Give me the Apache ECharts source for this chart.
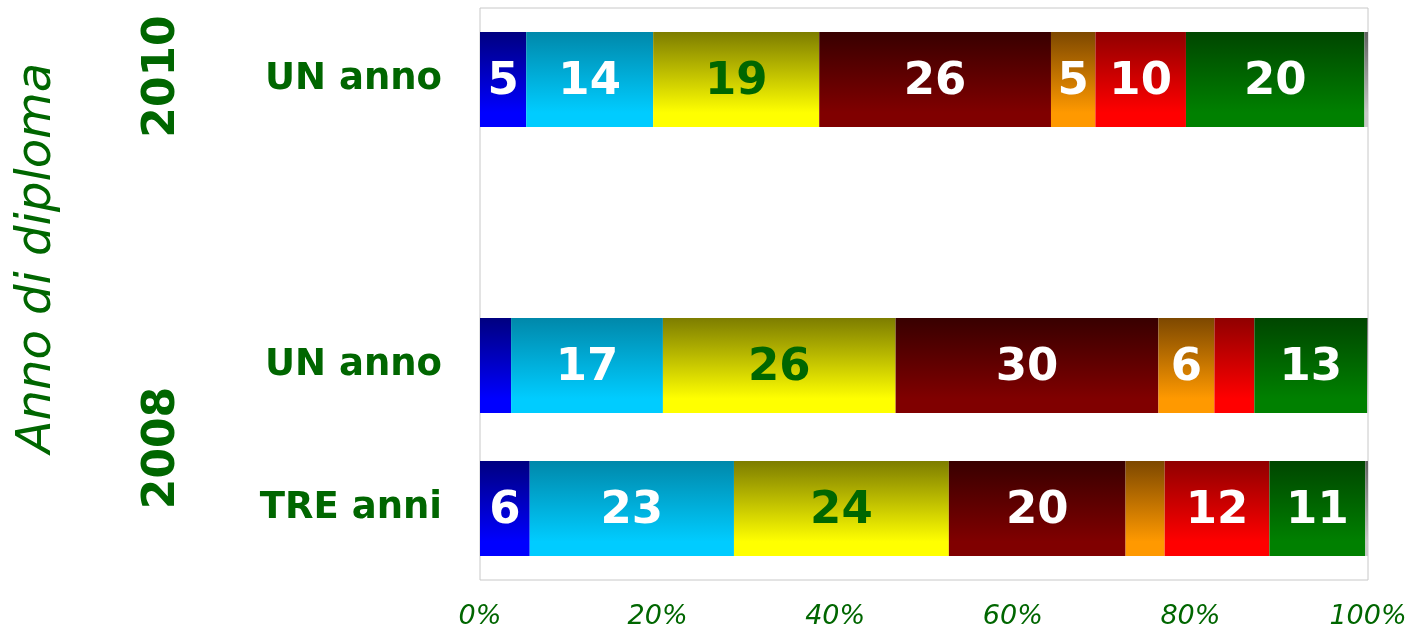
<!DOCTYPE html>
<html>
<head>
<meta charset="utf-8">
<script src="https://cdn.jsdelivr.net/npm/echarts@6/dist/echarts.min.js"></script>
<style>
html,body{margin:0;padding:0;background:#fff;}
#main{width:1411px;height:630px;}
</style>
</head>
<body>
<div id="main"></div>
<script>
// Categories (bottom to top); the third slot is an empty gap
const categoryKeys = ['2008-TRE', '2008-UN', 'gap', '2010-UN'];
const categoryLabels = ['TRE anni', 'UN anno', '', 'UN anno'];
const yearGroups = ['2008', '2010'];
const axisTitle = 'Anno di diploma';
const xTicks = [0, 20, 40, 60, 80, 100];

// Series values (%) per category, in categoryKeys order
const seriesNames = ['s1', 's2', 's3', 's4', 's5', 's6', 's7', 's8'];
const vBlue     = [5.6, 3.5,  null, 5.2];
const vCyan     = [23.0, 17.1, null, 14.3];
const vYellow   = [24.2, 26.2, null, 18.7];
const vDarkRed  = [19.9, 29.6, null, 26.1];
const vOrange   = [4.4, 6.3,  null, 5.0];
const vRed      = [11.8, 4.5, null, 10.2];
const vGreen    = [10.8, 12.7, null, 20.1];
const vGray     = [0.3, 0.1,  null, 0.4];

const seriesValues = [vBlue, vCyan, vYellow, vDarkRed, vOrange, vRed, vGreen, vGray];
const gradients = [
  ['#000080', '#0000ff'],
  ['#0088aa', '#00ccff'],
  ['#7d7d00', '#ffff00'],
  ['#380000', '#800000'],
  ['#7d4800', '#ff9900'],
  ['#900000', '#ff0000'],
  ['#004600', '#008000'],
  ['#606060', '#c8c8c8']
];
const labelColors = ['#fff', '#fff', '#006600', '#fff', '#fff', '#fff', '#fff', '#fff'];

const GREEN = '#006600';
const chart = echarts.init(document.getElementById('main'));

const series = seriesValues.map((vals, i) => ({
  name: seriesNames[i],
  type: 'bar',
  stack: 'total',
  barWidth: 95,
  data: vals,
  itemStyle: {
    color: new echarts.graphic.LinearGradient(0, 0, 0, 1, [
      {offset: 0, color: gradients[i][0]},
      {offset: 0.85, color: gradients[i][1]},
      {offset: 1, color: gradients[i][1]}
    ])
  },
  label: {
    show: true,
    position: 'inside',
    offset: [0, 3],
    color: labelColors[i],
    fontFamily: 'DejaVu Sans',
    fontWeight: 'bold',
    fontSize: 45,
    formatter: p => (p.value >= 4.95 ? String(Math.round(p.value)) : '')
  },
  emphasis: {disabled: true},
  animation: false
}));

chart.setOption({
  animation: false,
  grid: {left: 480, right: 43, top: 8, bottom: 50, show: true, borderColor: '#c8c8c8', borderWidth: 1, containLabel: false},
  xAxis: {
    type: 'value', min: 0, max: 100, interval: 20,
    axisLine: {show: false}, axisTick: {show: false}, splitLine: {show: false},
    axisLabel: {
      formatter: v => v + '%', color: GREEN, fontFamily: 'DejaVu Sans',
      fontStyle: 'italic', fontSize: 27, margin: 23
    }
  },
  yAxis: {
    type: 'category', data: categoryKeys,
    axisLine: {show: false}, axisTick: {show: false}, splitLine: {show: false},
    axisLabel: {
      formatter: (v, idx) => categoryLabels[idx], color: GREEN,
      fontFamily: 'DejaVu Sans', fontWeight: 'bold', fontSize: 37, margin: 38,
      padding: [6, 0, 0, 0]
    }
  },
  series: series
});

// Group year labels and axis title, positioned from the category axis
const p0 = chart.convertToPixel({yAxisIndex: 0}, categoryKeys[0]);
const p1 = chart.convertToPixel({yAxisIndex: 0}, categoryKeys[1]);
const p3 = chart.convertToPixel({yAxisIndex: 0}, categoryKeys[3]);
const yearStyle = {fill: GREEN, fontFamily: 'DejaVu Sans', fontWeight: 'bold', fontSize: 44, textAlign: 'center', textVerticalAlign: 'middle'};
chart.setOption({
  graphic: [
    {type: 'text', x: 163, y: (p0 + p1) / 2 + 11, rotation: Math.PI / 2, style: Object.assign({text: yearGroups[0]}, yearStyle)},
    {type: 'text', x: 163, y: p3 - 3, rotation: Math.PI / 2, style: Object.assign({text: yearGroups[1]}, yearStyle)},
    {type: 'text', x: 38, y: 258, rotation: Math.PI / 2, style: {text: axisTitle, fill: GREEN, fontFamily: 'DejaVu Sans', fontStyle: 'italic', fontSize: 48, textAlign: 'center', textVerticalAlign: 'middle'}}
  ]
});
</script>
</body>
</html>
